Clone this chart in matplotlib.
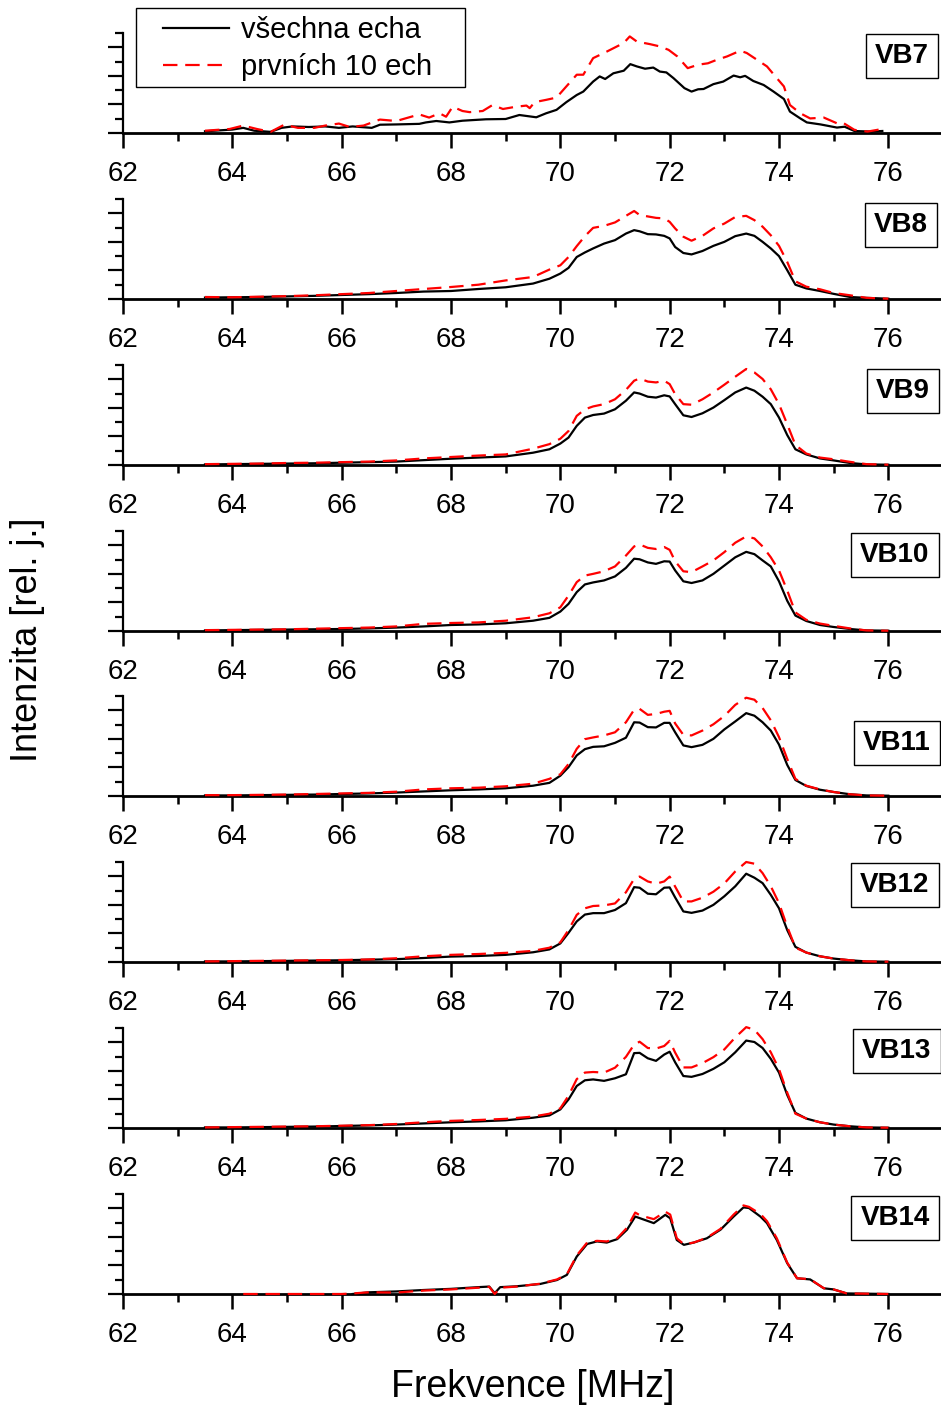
import matplotlib
matplotlib.use("Agg")
import matplotlib.pyplot as plt
from matplotlib.patches import Rectangle
from matplotlib.ticker import MultipleLocator
import numpy as np

plt.rcParams["font.family"] = ["Liberation Sans", "DejaVu Sans"]

########## Data ##########

# shared frequency grid [MHz] for VB8 - VB13
freq = [63.5, 64.0, 64.5, 65.0, 65.5, 66.0, 66.5, 67.0, 67.5, 68.0,
        68.5, 69.0, 69.5, 69.8, 70.0, 70.15, 70.3, 70.45, 70.6, 70.8,
        71.0, 71.2, 71.35, 71.45, 71.6, 71.75, 71.9, 72.0, 72.1, 72.25,
        72.4, 72.6, 72.8, 73.0, 73.2, 73.4, 73.55, 73.7, 73.85, 74.0,
        74.15, 74.3, 74.5, 74.75, 75.0, 75.3, 75.6, 76.0]

vb7_freq_all = [63.5, 64.0, 64.2, 64.4, 64.7, 64.9, 65.1, 65.4, 65.7, 65.95,
                66.2, 66.55, 66.7, 67.0, 67.42, 67.54, 67.73, 67.97, 68.21, 68.64,
                69.0, 69.25, 69.56, 69.74, 69.93, 70.11, 70.3, 70.42, 70.6, 70.72,
                70.82, 70.97, 71.16, 71.28, 71.4, 71.55, 71.7, 71.82, 71.94, 72.07,
                72.27, 72.4, 72.52, 72.62, 72.8, 72.98, 73.17, 73.29, 73.38, 73.53,
                73.72, 73.9, 74.09, 74.2, 74.39, 74.51, 74.76, 75.06, 75.2, 75.38,
                75.68, 75.89]
vb7_all = [0.06, 0.12, 0.18, 0.08, 0.04, 0.18, 0.23, 0.21, 0.23, 0.18,
           0.23, 0.18, 0.29, 0.30, 0.32, 0.37, 0.42, 0.37, 0.43, 0.48,
           0.49, 0.63, 0.55, 0.69, 0.81, 1.08, 1.33, 1.45, 1.80, 1.98,
           1.89, 2.09, 2.18, 2.41, 2.33, 2.25, 2.29, 2.15, 2.12, 1.92,
           1.57, 1.45, 1.53, 1.54, 1.71, 1.80, 2.01, 1.95, 2.00, 1.82,
           1.68, 1.45, 1.19, 0.75, 0.51, 0.37, 0.30, 0.19, 0.22, 0.07,
           0.05, 0.07]
vb7_freq_first = [63.5, 63.95, 64.2, 64.45, 64.7, 64.95, 65.2, 65.5, 65.7, 65.95,
                  66.15, 66.4, 66.7, 67.0, 67.42, 67.6, 67.79, 67.91, 68.03, 68.21,
                  68.34, 68.58, 68.76, 68.95, 69.19, 69.38, 69.44, 69.53, 69.74, 69.93,
                  70.11, 70.3, 70.42, 70.6, 70.85, 71.16, 71.27, 71.4, 71.64, 71.82,
                  71.98, 72.14, 72.33, 72.52, 72.7, 72.86, 73.05, 73.29, 73.41, 73.6,
                  73.78, 73.96, 74.09, 74.2, 74.39, 74.57, 74.82, 75.06, 75.16, 75.38,
                  75.62, 75.89]
vb7_first = [0.08, 0.14, 0.26, 0.14, 0.04, 0.29, 0.18, 0.18, 0.26, 0.33,
             0.21, 0.26, 0.47, 0.42, 0.65, 0.54, 0.69, 0.57, 0.92, 0.77,
             0.73, 0.77, 0.98, 0.84, 0.92, 0.96, 0.87, 1.08, 1.16, 1.24,
             1.63, 2.04, 2.04, 2.62, 2.85, 3.15, 3.38, 3.20, 3.11, 3.03,
             2.91, 2.68, 2.27, 2.39, 2.44, 2.56, 2.68, 2.88, 2.80, 2.56,
             2.33, 1.92, 1.63, 0.98, 0.69, 0.51, 0.54, 0.34, 0.37, 0.11,
             0.05, 0.14]

vb8_all = [0.05, 0.06, 0.07, 0.09, 0.11, 0.14, 0.17, 0.21, 0.26, 0.28,
           0.35, 0.41, 0.54, 0.71, 0.89, 1.09, 1.47, 1.63, 1.77, 1.94,
           2.06, 2.29, 2.41, 2.37, 2.27, 2.26, 2.21, 2.12, 1.82, 1.61,
           1.56, 1.68, 1.86, 2.00, 2.20, 2.29, 2.21, 2.00, 1.77, 1.50,
           1.01, 0.50, 0.37, 0.28, 0.18, 0.07, 0.04, 0.01]
vb8_first = [0.07, 0.06, 0.08, 0.10, 0.13, 0.17, 0.21, 0.28, 0.35, 0.42,
             0.50, 0.65, 0.77, 1.03, 1.18, 1.47, 1.85, 2.20, 2.49, 2.56,
             2.68, 2.91, 3.08, 2.94, 2.89, 2.84, 2.82, 2.70, 2.47, 2.18,
             2.04, 2.21, 2.47, 2.64, 2.87, 2.91, 2.76, 2.53, 2.23, 1.86,
             1.30, 0.62, 0.43, 0.34, 0.21, 0.13, 0.04, 0.01]

vb9_all = [0.02, 0.03, 0.04, 0.05, 0.06, 0.08, 0.10, 0.12, 0.17, 0.22,
           0.26, 0.30, 0.43, 0.55, 0.75, 0.96, 1.37, 1.66, 1.75, 1.80,
           1.95, 2.25, 2.54, 2.50, 2.39, 2.36, 2.44, 2.40, 2.13, 1.74,
           1.68, 1.81, 2.01, 2.27, 2.54, 2.71, 2.60, 2.39, 2.13, 1.66,
           1.05, 0.55, 0.37, 0.23, 0.16, 0.07, 0.02, 0.01]
vb9_first = [0.03, 0.04, 0.05, 0.07, 0.08, 0.10, 0.12, 0.16, 0.23, 0.28,
             0.33, 0.37, 0.57, 0.73, 0.92, 1.19, 1.72, 1.95, 2.05, 2.13,
             2.30, 2.63, 2.95, 3.03, 2.92, 2.89, 2.95, 2.83, 2.48, 2.13,
             2.11, 2.30, 2.54, 2.81, 3.09, 3.36, 3.24, 3.01, 2.65, 2.13,
             1.43, 0.70, 0.40, 0.26, 0.20, 0.11, 0.03, 0.01]

vb10_all = [0.02, 0.03, 0.04, 0.05, 0.06, 0.07, 0.09, 0.12, 0.16, 0.21,
            0.23, 0.27, 0.36, 0.46, 0.68, 0.95, 1.36, 1.63, 1.70, 1.77,
            1.91, 2.21, 2.53, 2.51, 2.40, 2.35, 2.44, 2.43, 2.12, 1.74,
            1.68, 1.77, 2.00, 2.29, 2.58, 2.77, 2.69, 2.47, 2.26, 1.74,
            1.06, 0.54, 0.35, 0.21, 0.14, 0.07, 0.02, 0.01]
vb10_first = [0.03, 0.04, 0.05, 0.06, 0.08, 0.10, 0.12, 0.16, 0.25, 0.28,
              0.30, 0.36, 0.48, 0.62, 0.83, 1.24, 1.71, 1.94, 2.00, 2.09,
              2.26, 2.64, 2.96, 3.03, 2.91, 2.87, 2.94, 2.84, 2.44, 2.09,
              2.06, 2.26, 2.47, 2.76, 3.09, 3.31, 3.24, 2.96, 2.58, 2.12,
              1.42, 0.65, 0.39, 0.26, 0.18, 0.09, 0.02, 0.01]

vb11_all = [0.02, 0.02, 0.03, 0.04, 0.05, 0.07, 0.09, 0.12, 0.16, 0.20,
            0.23, 0.27, 0.36, 0.46, 0.71, 1.01, 1.42, 1.64, 1.72, 1.74,
            1.86, 2.04, 2.58, 2.57, 2.41, 2.40, 2.56, 2.56, 2.23, 1.77,
            1.71, 1.79, 2.00, 2.33, 2.61, 2.90, 2.81, 2.58, 2.29, 1.80,
            1.09, 0.56, 0.35, 0.22, 0.14, 0.06, 0.02, 0.01]
vb11_first = [0.03, 0.03, 0.04, 0.05, 0.07, 0.09, 0.11, 0.15, 0.23, 0.27,
              0.29, 0.34, 0.43, 0.60, 0.76, 1.12, 1.65, 1.99, 2.05, 2.12,
              2.23, 2.58, 3.02, 3.05, 2.84, 2.87, 2.95, 2.98, 2.54, 2.14,
              2.12, 2.29, 2.51, 2.80, 3.19, 3.44, 3.37, 3.08, 2.65, 2.06,
              1.30, 0.60, 0.36, 0.23, 0.14, 0.06, 0.02, 0.01]

vb12_all = [0.02, 0.02, 0.03, 0.04, 0.05, 0.06, 0.08, 0.10, 0.14, 0.19,
            0.21, 0.25, 0.34, 0.44, 0.65, 1.02, 1.42, 1.66, 1.71, 1.71,
            1.82, 2.06, 2.62, 2.60, 2.39, 2.37, 2.60, 2.61, 2.26, 1.77,
            1.72, 1.80, 2.00, 2.30, 2.65, 3.09, 2.95, 2.76, 2.35, 1.88,
            1.12, 0.53, 0.33, 0.20, 0.12, 0.06, 0.02, 0.01]
vb12_first = [0.02, 0.03, 0.04, 0.05, 0.06, 0.07, 0.09, 0.13, 0.20, 0.25,
              0.28, 0.32, 0.39, 0.50, 0.69, 1.12, 1.65, 1.88, 1.96, 1.98,
              2.05, 2.44, 2.91, 2.99, 2.82, 2.74, 2.82, 2.99, 2.64, 2.12,
              2.12, 2.25, 2.46, 2.75, 3.17, 3.50, 3.44, 3.11, 2.65, 2.06,
              1.24, 0.50, 0.33, 0.20, 0.12, 0.06, 0.02, 0.01]

vb13_all = [0.02, 0.02, 0.03, 0.04, 0.05, 0.07, 0.09, 0.12, 0.16, 0.20,
            0.23, 0.27, 0.36, 0.44, 0.65, 1.00, 1.47, 1.67, 1.70, 1.65,
            1.74, 1.88, 2.62, 2.63, 2.44, 2.35, 2.57, 2.67, 2.30, 1.82,
            1.79, 1.89, 2.07, 2.30, 2.65, 3.06, 3.01, 2.80, 2.42, 1.94,
            1.16, 0.53, 0.33, 0.20, 0.12, 0.06, 0.02, 0.01]
vb13_first = [0.02, 0.03, 0.04, 0.05, 0.06, 0.08, 0.10, 0.14, 0.20, 0.25,
              0.28, 0.32, 0.40, 0.50, 0.69, 1.13, 1.71, 1.94, 1.96, 1.94,
              2.11, 2.49, 2.92, 3.02, 2.80, 2.78, 2.87, 3.05, 2.64, 2.12,
              2.12, 2.27, 2.48, 2.75, 3.17, 3.53, 3.44, 3.11, 2.65, 2.06,
              1.24, 0.50, 0.33, 0.20, 0.12, 0.06, 0.02, 0.01]

vb14_freq = [64.2, 64.5, 65.0, 65.5, 66.0, 66.2, 66.5, 67.0, 67.5, 68.0,
             68.5, 68.7, 68.8, 68.9, 69.2, 69.63, 69.94, 70.12, 70.3, 70.49,
             70.67, 70.85, 71.04, 71.22, 71.37, 71.46, 71.71, 71.92, 72.01, 72.13,
             72.26, 72.44, 72.68, 72.93, 73.17, 73.35, 73.45, 73.66, 73.78, 73.96,
             74.15, 74.33, 74.57, 74.82, 75.0, 75.24, 76.0]
vb14_all = [np.nan, np.nan, np.nan, np.nan, np.nan, 0.0, 0.06, 0.09, 0.14, 0.18,
            0.24, 0.26, 0.03, 0.24, 0.27, 0.35, 0.49, 0.67, 1.31, 1.75,
            1.84, 1.80, 1.92, 2.25, 2.71, 2.65, 2.48, 2.77, 2.65, 1.89,
            1.72, 1.80, 1.95, 2.25, 2.71, 3.03, 3.01, 2.71, 2.48, 1.89,
            1.08, 0.55, 0.51, 0.20, 0.16, 0.02, 0.0]
vb14_first = [0.0, 0.0, 0.0, 0.0, 0.0, 0.02, 0.06, 0.05, 0.12, 0.16,
              0.22, 0.25, 0.0, 0.22, 0.26, 0.36, 0.51, 0.69, 1.35, 1.80,
              1.86, 1.84, 1.95, 2.32, 2.85, 2.75, 2.62, 2.88, 2.78, 1.95,
              1.74, 1.80, 1.97, 2.28, 2.78, 3.10, 3.05, 2.80, 2.55, 1.95,
              1.10, 0.55, 0.52, 0.20, 0.16, 0.02, 0.0]

panel_labels = ["VB7", "VB8", "VB9", "VB10", "VB11", "VB12", "VB13", "VB14"]
legend_labels = ["všechna echa", "prvních 10 ech"]

series = [
    (vb7_freq_all, vb7_all, vb7_freq_first, vb7_first),
    (freq, vb8_all, freq, vb8_first),
    (freq, vb9_all, freq, vb9_first),
    (freq, vb10_all, freq, vb10_first),
    (freq, vb11_all, freq, vb11_first),
    (freq, vb12_all, freq, vb12_first),
    (freq, vb13_all, freq, vb13_first),
    (vb14_freq, vb14_all, vb14_freq, vb14_first),
]

########## Layout (pixels) ##########

W, H = 941, 1408
baselines = [133, 299, 465, 631, 796, 962, 1128, 1294]
panel_h = 100
ax_left, ax_width = 123, 820
tag_x = [902, 901, 903, 895, 897, 895, 897, 895]
tag_y = [56, 225, 391, 555, 743, 885, 1051, 1218]

###########################

fig = plt.figure(figsize=(W / 100, H / 100), dpi=100)

axes = []
for i, (f_all, y_all, f_first, y_first) in enumerate(series):
    ax = fig.add_axes([ax_left / W, 1 - baselines[i] / H, ax_width / W, panel_h / H])
    l1, = ax.plot(f_all, y_all, color="black", lw=1.6, clip_on=False, zorder=3)
    l2, = ax.plot(f_first, y_first, color="#ff0000", lw=1.6,
                  linestyle=(0, (6.5, 3.5)), clip_on=False, zorder=3)

    ax.set_xlim(62, 77)
    ax.set_ylim(0, 3.5)
    ax.spines["top"].set_visible(False)
    ax.spines["right"].set_visible(False)
    ax.spines["bottom"].set_linewidth(2.0)
    ax.spines["left"].set_linewidth(1.6)

    ax.xaxis.set_major_locator(MultipleLocator(2))
    ax.xaxis.set_minor_locator(MultipleLocator(1))
    ax.yaxis.set_major_locator(MultipleLocator(1))
    ax.yaxis.set_minor_locator(MultipleLocator(0.5))
    ax.tick_params(axis="x", which="major", direction="out", length=11, width=1.8,
                   labelsize=20, pad=9)
    ax.tick_params(axis="x", which="minor", direction="out", length=6, width=1.8)
    ax.tick_params(axis="y", which="major", direction="out", length=11, width=1.6,
                   labelleft=False)
    ax.tick_params(axis="y", which="minor", direction="out", length=6, width=1.6)
    ax.set_xticks(range(62, 77, 2))

    fig.text(tag_x[i] / W, 1 - tag_y[i] / H, panel_labels[i], fontsize=20,
             fontweight="bold", ha="center", va="center",
             bbox=dict(boxstyle="square,pad=0.32", facecolor="white",
                       edgecolor="black", linewidth=1.0))
    axes.append((ax, l1, l2))

# legend: frameless entries plus a plain rectangle as the frame
ax0, l1, l2 = axes[0]
leg = ax0.legend([l1, l2], legend_labels, loc="upper left",
                 bbox_to_anchor=(163 / W, 1 - 16 / H), bbox_transform=fig.transFigure,
                 fontsize=21, frameon=False, borderaxespad=0, borderpad=0,
                 handlelength=2.25, handletextpad=0.42, labelspacing=0.32)
fig.patches.append(Rectangle((136 / W, 1 - 87 / H), (465 - 136) / W, 79 / H,
                             transform=fig.transFigure, facecolor="none",
                             edgecolor="black", linewidth=1.0))

fig.text(533 / W, 1 - 1387 / H, "Frekvence [MHz]", fontsize=27,
         ha="center", va="center")
fig.text(28 / W, 1 - 640 / H, "Intenzita [rel. j.]", fontsize=26,
         ha="center", va="center", rotation=90)

fig.savefig("out.png", dpi=100)
